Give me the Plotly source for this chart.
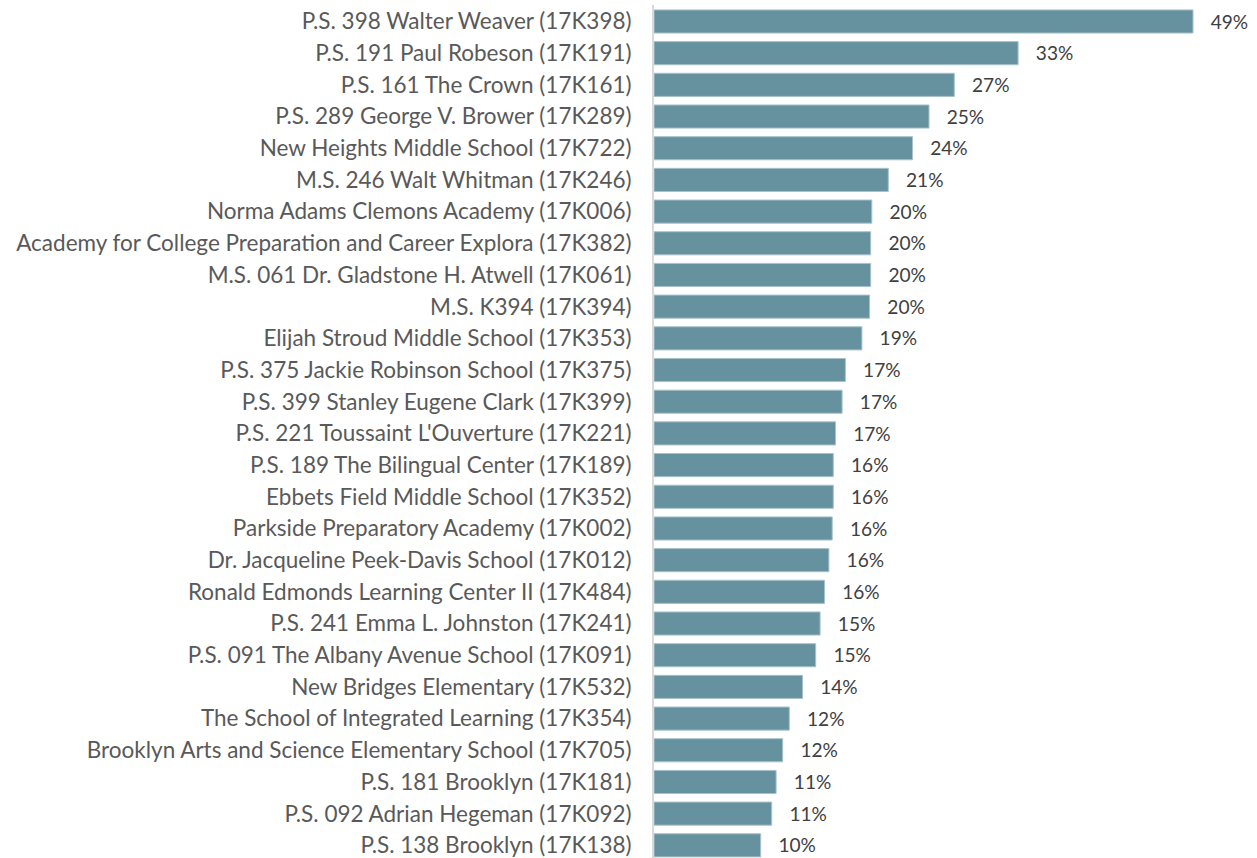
import plotly.graph_objects as go

schools = [
    "P.S. 398 Walter Weaver (17K398)",
    "P.S. 191 Paul Robeson (17K191)",
    "P.S. 161 The Crown (17K161)",
    "P.S. 289 George V. Brower (17K289)",
    "New Heights Middle School (17K722)",
    "M.S. 246 Walt Whitman (17K246)",
    "Norma Adams Clemons Academy (17K006)",
    "Academy for College Preparation and Career Explora (17K382)",
    "M.S. 061 Dr. Gladstone H. Atwell (17K061)",
    "M.S. K394 (17K394)",
    "Elijah Stroud Middle School (17K353)",
    "P.S. 375 Jackie Robinson School (17K375)",
    "P.S. 399 Stanley Eugene Clark (17K399)",
    "P.S. 221 Toussaint L'Ouverture (17K221)",
    "P.S. 189 The Bilingual Center (17K189)",
    "Ebbets Field Middle School (17K352)",
    "Parkside Preparatory Academy (17K002)",
    "Dr. Jacqueline Peek-Davis School (17K012)",
    "Ronald Edmonds Learning Center II (17K484)",
    "P.S. 241 Emma L. Johnston (17K241)",
    "P.S. 091 The Albany Avenue School (17K091)",
    "New Bridges Elementary (17K532)",
    "The School of Integrated Learning (17K354)",
    "Brooklyn Arts and Science Elementary School (17K705)",
    "P.S. 181 Brooklyn (17K181)",
    "P.S. 092 Adrian Hegeman (17K092)",
    "P.S. 138 Brooklyn (17K138)",
]

values = [0.490, 0.331, 0.273, 0.250, 0.235, 0.213, 0.198, 0.197, 0.197, 0.196,
          0.189, 0.174, 0.171, 0.165, 0.163, 0.163, 0.162, 0.159, 0.155, 0.151,
          0.147, 0.135, 0.123, 0.117, 0.111, 0.107, 0.097]

fig = go.Figure(go.Bar(
    x=values,
    y=schools,
    orientation="h",
    marker=dict(color="#6692A0", line=dict(color="#A9C2CA", width=1)),
    texttemplate="\u00a0\u00a0\u00a0%{x:.0%}",
    textposition="outside",
    cliponaxis=False,
    textfont=dict(family="Lato, sans-serif", size=21.5, color="#404040"),
))

n = len(schools)
fig.update_layout(
    width=1257, height=858,
    margin=dict(l=654, r=9, t=5, b=0),
    paper_bgcolor="white", plot_bgcolor="white",
    bargap=0.27,
    showlegend=False,
    font=dict(family="Lato, sans-serif", size=22.5, color="#595959"),
)
fig.update_xaxes(range=[0, 0.54], visible=False, showgrid=False, zeroline=False)
fig.update_yaxes(
    range=[n - 0.6, -0.52], showgrid=False, zeroline=False,
    showline=True, linecolor="#D9D9D9", linewidth=2,
    ticks="", ticklabelstandoff=16, automargin=False,
    tickfont=dict(family="Lato, sans-serif", size=22.5, color="#595959"),
)

fig.write_html("out.html", config={"displayModeBar": False},
               post_script="document.body.style.margin='0';")
